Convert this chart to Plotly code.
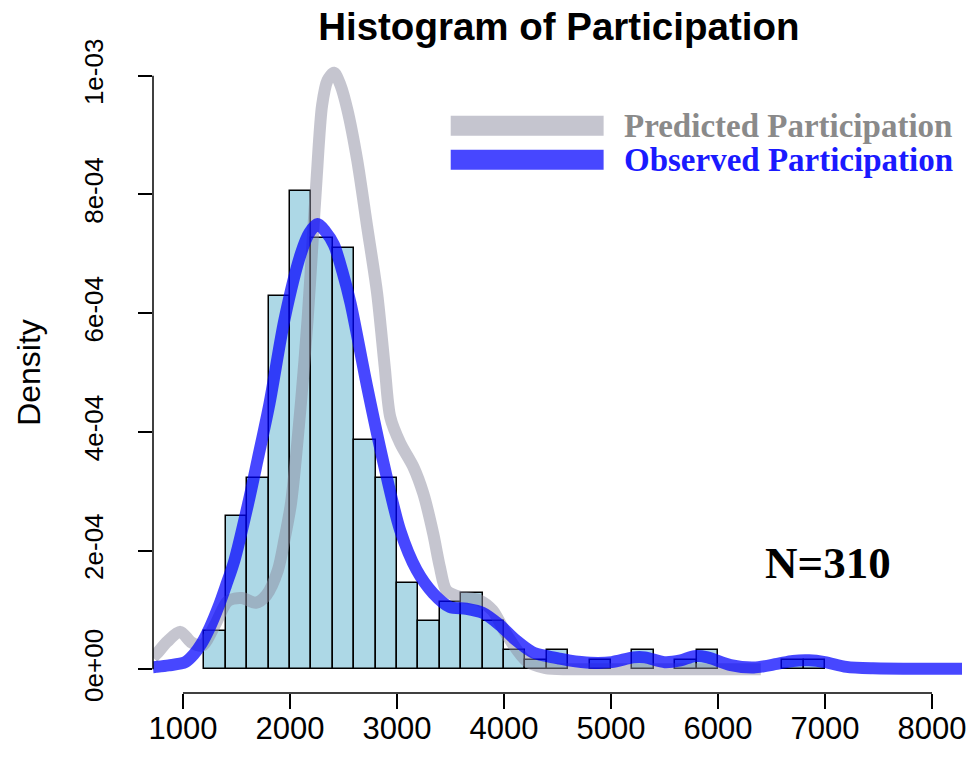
import plotly.graph_objects as go

# Histogram bins (left edges) and densities
bin_width = 200
bin_left = [1200, 1400, 1600, 1800, 2000, 2200, 2400, 2600, 2800, 3000, 3200, 3400,
            3600, 3800, 4000, 4200, 4400, 4800, 5200, 5600, 5800, 6600, 6800]
bin_counts = [4, 16, 20, 39, 50, 45, 44, 24, 20, 9, 5, 7, 8, 5, 2, 1, 2, 1, 2, 1, 2, 1, 1]
n_total = 310

# Observed participation density curve
obs_x = [720, 750, 867, 1021, 1100, 1176, 1250, 1331, 1400, 1482, 1609, 1700, 1809, 1948,
         2103, 2180, 2258, 2330, 2411, 2490, 2566, 2721, 2875, 3030, 3184, 3338, 3493,
         3648, 3802, 3957, 4111, 4265, 4404, 4513, 4605, 4806, 5007, 5208, 5316, 5501,
         5650, 5779, 5903, 6119, 6335, 6551, 6700, 6850, 6999, 7200, 7447, 7800, 8300]
obs_y = [3.5e-6, 4e-6, 6.5e-6, 1.2e-5, 2.5e-5, 4.4e-5, 7.0e-5, 1.05e-4, 1.4e-4, 1.84e-4,
         2.79e-4, 3.55e-4, 4.48e-4, 5.89e-4, 7.01e-4, 7.35e-4, 7.5e-4, 7.38e-4, 7.15e-4,
         6.7e-4, 6.17e-4, 4.76e-4, 3.47e-4, 2.34e-4, 1.67e-4, 1.28e-4, 1.05e-4, 1.02e-4,
         9.5e-5, 7.5e-5, 4.9e-5, 2.9e-5, 2.2e-5, 1.8e-5, 1.5e-5, 1.1e-5, 1.2e-5, 2.0e-5,
         2.0e-5, 1.2e-5, 1.5e-5, 2.2e-5, 2.0e-5, 7e-6, 3e-6, 9e-6, 1.4e-5, 1.5e-5, 1.2e-5,
         4e-6, 1.5e-6, 1e-6, 1e-6]

# Predicted participation density curve
pred_x = [720, 759, 850, 975, 1080, 1180, 1300, 1420, 1550, 1680, 1780, 1887, 1950, 2010,
          2103, 2165, 2211, 2250, 2300, 2350, 2412, 2470, 2536, 2628, 2721, 2814, 2885,
          2937, 3030, 3153, 3246, 3338, 3400, 3462, 3586, 3771, 3894, 4019, 4204, 4389,
          4600, 5000, 5500, 6000, 6400]
pred_y = [2.0e-5, 2.7e-5, 4.6e-5, 6.3e-5, 4.5e-5, 4.0e-5, 7.5e-5, 1.15e-4, 1.2e-4,
          1.12e-4, 1.25e-4, 1.67e-4, 2.2e-4, 2.8e-4, 4.5e-4, 5.9e-4, 7.2e-4, 8.3e-4,
          9.5e-4, 9.92e-4, 1.005e-3, 9.85e-4, 9.43e-4, 8.58e-4, 7.46e-4, 6.34e-4, 5.1e-4,
          4.25e-4, 3.81e-4, 3.41e-4, 2.96e-4, 2.29e-4, 1.73e-4, 1.33e-4, 1.22e-4, 1.16e-4,
          9.9e-5, 6.0e-5, 1.5e-5, 2e-6, 0, 0, 0, 0, 0]

x_ticks = [1000, 2000, 3000, 4000, 5000, 6000, 7000, 8000]
y_ticks = [0, 2e-4, 4e-4, 6e-4, 8e-4, 1e-3]
y_tick_labels = ["0e+00", "2e-04", "4e-04", "6e-04", "8e-04", "1e-03"]

legend_labels = ["Predicted Participation", "Observed Participation"]
title_text = "Histogram of Participation"
n_label = "N=310"

blue = "rgba(0,0,255,0.72)"
gray = "rgba(140,140,160,0.5)"

bar_centers = [b + bin_width / 2 for b in bin_left]
densities = [c / (n_total * bin_width) for c in bin_counts]

fig = go.Figure()
fig.add_trace(go.Bar(x=bar_centers, y=densities, width=bin_width,
                     marker=dict(color="#ADD8E6", line=dict(color="black", width=1.5)),
                     showlegend=False))
fig.add_trace(go.Scatter(x=pred_x, y=pred_y, mode="lines",
                         line=dict(color=gray, width=12, shape="spline", smoothing=0.8),
                         showlegend=False))
fig.add_trace(go.Scatter(x=obs_x, y=obs_y, mode="lines",
                         line=dict(color=blue, width=12, shape="spline", smoothing=0.8),
                         showlegend=False))

x_lo, x_hi = 720, 8280
y_lo, y_hi = -4e-5, 1.04e-3

fig.update_layout(
    width=971, height=760,
    margin=dict(l=153, r=5, t=52, b=67),
    paper_bgcolor="white", plot_bgcolor="white",
    bargap=0,
    font=dict(family="Liberation Sans, Arial, sans-serif", color="black"),
    title=dict(text="<b>" + title_text + "</b>", x=0.5755, xanchor="center",
               y=0.965, yanchor="middle",
               font=dict(size=38.5, family="Liberation Sans, Arial, sans-serif", color="black")),
    xaxis=dict(range=[x_lo, x_hi], tickvals=x_ticks, ticktext=[str(v) for v in x_ticks],
               ticks="outside", ticklen=15, tickwidth=1.5, tickcolor="black",
               ticklabelstandoff=-7,
               showline=False, showgrid=False, zeroline=False,
               tickfont=dict(size=31)),
    yaxis=dict(range=[y_lo, y_hi], tickvals=y_ticks, ticktext=y_tick_labels,
               ticks="outside", ticklen=14, tickwidth=1.5, tickcolor="black",
               tickangle=-90, ticklabelstandoff=25,
               showline=False, showgrid=False, zeroline=False,
               tickfont=dict(size=26),
               title=dict(text="Density", font=dict(size=32), standoff=28)),
)

# R-style axis lines spanning first to last tick
fig.add_shape(type="line", xref="x", yref="paper", x0=x_ticks[0], x1=x_ticks[-1], y0=0, y1=0,
              line=dict(color="black", width=1.5))
fig.add_shape(type="line", xref="paper", yref="y", x0=0, x1=0, y0=y_ticks[0], y1=y_ticks[-1],
              line=dict(color="black", width=1.5))

# Legend (manual, R style)
leg_colors = [gray, blue]
leg_text_colors = ["#8a8a8a", "#1a1aff"]
leg_y = [0.885, 0.832]
for lab, lc, tc, ly in zip(legend_labels, leg_colors, leg_text_colors, leg_y):
    fig.add_shape(type="line", xref="paper", yref="paper", x0=0.368, x1=0.557, y0=ly, y1=ly,
                  line=dict(color=lc, width=20))
    fig.add_annotation(xref="paper", yref="paper", x=0.580, y=ly, xanchor="left",
                       yanchor="middle", showarrow=False,
                       text="<b>" + lab + "</b>",
                       font=dict(family="Liberation Serif, Times New Roman, serif",
                                 size=33, color=tc))

fig.add_annotation(xref="paper", yref="paper", x=0.834, y=0.203, xanchor="center",
                   yanchor="middle", showarrow=False, text="<b>" + n_label + "</b>",
                   font=dict(family="Liberation Serif, Times New Roman, serif", size=45,
                             color="black"))

fig.write_html("out.html")
